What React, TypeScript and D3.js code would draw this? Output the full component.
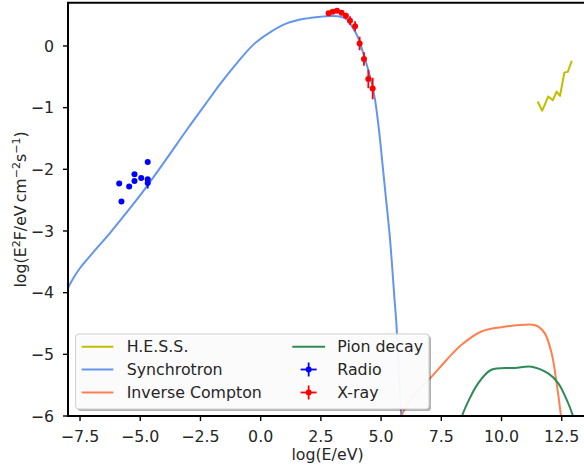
import React from "react";
import * as d3 from "d3";

const xTicks = [-7.5, -5.0, -2.5, 0.0, 2.5, 5.0, 7.5, 10.0, 12.5];
const yTicks = [0, -1, -2, -3, -4, -5, -6];

const syncX = [-8.1, -7.8, -7.5, -6.94, -6.25, -5.69, -5.0, -4.0, -3.05, -2.36, -1.67, -0.97, -0.28, 0.42, 1.11, 1.81, 2.5, 2.92, 3.33, 3.61, 3.75, 4.03, 4.3, 4.58, 4.75, 4.93, 5.07, 5.21, 5.35, 5.46, 5.56, 5.625, 5.72, 5.8, 5.87];
const syncY = [-4.0, -3.78, -3.6, -3.34, -3.03, -2.76, -2.42, -1.88, -1.35, -0.98, -0.61, -0.27, 0.03, 0.23, 0.37, 0.44, 0.475, 0.486, 0.475, 0.42, 0.34, 0.15, -0.17, -0.55, -0.876, -1.42, -1.96, -2.5, -3.04, -3.58, -4.12, -4.44, -5.1, -5.7, -6.3];

const icX = [5.78, 6.1, 6.5, 7.08, 7.7, 8.33, 9.17, 10.0, 10.97, 11.3, 11.53, 11.8, 12.08, 12.29, 12.47, 12.52];
const icY = [-6.05, -5.8, -5.6, -5.37, -5.1, -4.85, -4.63, -4.56, -4.52, -4.52, -4.55, -4.66, -4.98, -5.47, -6.0, -6.2];

const pionX = [8.34, 8.38, 9.03, 9.58, 10.56, 11.25, 11.94, 12.36, 12.71, 12.95, 13.0];
const pionY = [-6.05, -5.98, -5.47, -5.25, -5.22, -5.2, -5.31, -5.47, -5.74, -5.98, -6.05];

const hessX = [11.5, 11.69, 11.94, 12.13, 12.29, 12.43, 12.61, 12.75, 12.92];
const hessY = [-0.9, -1.05, -0.82, -0.88, -0.74, -0.81, -0.43, -0.42, -0.24];

const radioX = [-5.875, -5.78, -5.46, -5.24, -5.24, -4.96, -4.69, -4.69, -4.69];
const radioY = [-2.23, -2.52, -2.28, -2.08, -2.19, -2.14, -1.88, -2.16, -2.22];
const radioErr = [0.02, 0.02, 0.02, 0.02, 0.02, 0.02, 0.02, 0.03, 0.09];

const xrayX = [2.82, 2.99, 3.17, 3.36, 3.54, 3.71, 3.92, 4.11, 4.29, 4.47, 4.65];
const xrayY = [0.53, 0.556, 0.57, 0.54, 0.49, 0.41, 0.32, 0.04, -0.21, -0.535, -0.69];
const xrayErr = [0.02, 0.02, 0.03, 0.04, 0.05, 0.07, 0.08, 0.11, 0.11, 0.15, 0.175];
const xrayXErr = [0.06, 0.06, 0.06, 0.06, 0.06, 0.06, 0.06, 0.06, 0.06, 0.06, 0.06];

const W = 584, H = 468;
const L = 68, R = 587, T = 2.8, B = 416;
const FONT = "DejaVu Sans, sans-serif";
const FS = 15.8;

const C_HESS = "#bfbf00";
const C_SYNC = "#6495ED";
const C_IC = "#FF7F50";
const C_PION = "#2E8B57";
const C_RADIO = "#0000FF";
const C_XRAY = "#FF0000";
const TXT = "#262626";

const fmt = (v: number) => (v < 0 ? "\u2212" : "") + Math.abs(v).toFixed(1);
const fmtInt = (v: number) => (v < 0 ? "\u2212" : "") + Math.abs(v).toFixed(0);

export default function App() {
  const x = d3.scaleLinear().domain([-8, 13.55]).range([L, R]);
  const y = d3.scaleLinear().domain([-6, 0.7]).range([B, T]);
  const line = d3
    .line<[number, number]>()
    .x((d) => x(d[0]))
    .y((d) => y(d[1]))
    .curve(d3.curveCatmullRom.alpha(0.5));
  const lineLin = d3
    .line<[number, number]>()
    .x((d) => x(d[0]))
    .y((d) => y(d[1]));
  const zip = (a: number[], b: number[]) => a.map((v, i) => [v, b[i]] as [number, number]);

  const legX = 75.7, legY = 334, legW = 353.3, legH = 75;
  const rows = [346.7, 369.5, 392.5];
  const col1H = [81.7, 113.3], col1T = 126.7;
  const col2H = [292.3, 325], col2T = 337.3;

  return (
    <svg width={W} height={H} style={{ position: "absolute", left: 0, top: 0, background: "#fff" }} fontFamily={FONT}>
      <defs>
        <clipPath id="plot">
          <rect x={L} y={T} width={R - L} height={B - T} />
        </clipPath>
      </defs>
      <rect x={0} y={0} width={W} height={H} fill="#fff" />
      <g clipPath="url(#plot)" fill="none" strokeWidth={2} strokeLinejoin="round">
        <path d={lineLin(zip(hessX, hessY)) || ""} stroke={C_HESS} />
        <path d={line(zip(syncX, syncY)) || ""} stroke={C_SYNC} />
        <path d={line(zip(icX, icY)) || ""} stroke={C_IC} />
        <path d={line(zip(pionX, pionY)) || ""} stroke={C_PION} />
      </g>
      <g clipPath="url(#plot)">
        {radioX.map((v, i) => (
          <g key={"r" + i}>
            <line x1={x(v)} x2={x(v)} y1={y(radioY[i] - radioErr[i])} y2={y(radioY[i] + radioErr[i])} stroke={C_RADIO} strokeWidth={1.8} />
            <circle cx={x(v)} cy={y(radioY[i])} r={3} fill={C_RADIO} />
          </g>
        ))}
        {xrayX.map((v, i) => (
          <g key={"x" + i}>
            <line x1={x(v)} x2={x(v)} y1={y(xrayY[i] - xrayErr[i])} y2={y(xrayY[i] + xrayErr[i])} stroke={C_XRAY} strokeWidth={1.8} />
            <line x1={x(v - xrayXErr[i])} x2={x(v + xrayXErr[i])} y1={y(xrayY[i])} y2={y(xrayY[i])} stroke={C_XRAY} strokeWidth={1.8} />
            <circle cx={x(v)} cy={y(xrayY[i])} r={3} fill={C_XRAY} />
          </g>
        ))}
      </g>
      {/* spines */}
      <g stroke="#000" strokeWidth={2} fill="none">
        <line x1={L} x2={L} y1={T} y2={B} />
        <line x1={L - 1} x2={W + 5} y1={B} y2={B} />
        <line x1={L - 1} x2={W + 5} y1={T} y2={T} />
      </g>
      {/* x ticks */}
      {xTicks.map((t) => (
        <g key={"xt" + t}>
          <line x1={x(t)} x2={x(t)} y1={B} y2={B + 5} stroke="#000" strokeWidth={1.4} />
          <text x={x(t)} y={442} textAnchor="middle" fontSize={FS} fill={TXT}>
            {fmt(t)}
          </text>
        </g>
      ))}
      {yTicks.map((t) => (
        <g key={"yt" + t}>
          <line x1={L - 5} x2={L} y1={y(t)} y2={y(t)} stroke="#000" strokeWidth={1.4} />
          <text x={L - 14} y={y(t)} dy="0.36em" textAnchor="end" fontSize={FS} fill={TXT}>
            {fmtInt(t)}
          </text>
        </g>
      ))}
      <text x={(L + R) / 2} y={460} textAnchor="middle" fontSize={FS} fill={TXT}>
        log(E/eV)
      </text>
      <text transform={`translate(25.5, ${(T + B) / 2}) rotate(-90)`} textAnchor="middle" fontSize={FS} fill={TXT}>
        <tspan>log(E</tspan>
        <tspan fontSize={FS * 0.7} dy={-6}>2</tspan>
        <tspan dy={6}>F/eV</tspan>
        <tspan dx={3}>cm</tspan>
        <tspan fontSize={FS * 0.7} dy={-6}>{"\u22122"}</tspan>
        <tspan dy={6}>s</tspan>
        <tspan fontSize={FS * 0.7} dy={-6}>{"\u22121"}</tspan>
        <tspan dy={6}>)</tspan>
      </text>
      {/* legend */}
      <rect x={legX + 2} y={legY + 2} width={legW} height={legH} rx={3} fill="#000" opacity={0.3} />
      <rect x={legX} y={legY} width={legW} height={legH} rx={3} fill="#fff" fillOpacity={0.95} stroke="#cccccc" strokeWidth={1} />
      {[
        { c: C_HESS, t: "H.E.S.S." },
        { c: C_SYNC, t: "Synchrotron" },
        { c: C_IC, t: "Inverse Compton" },
      ].map((e, i) => (
        <g key={"l1" + i}>
          <line x1={col1H[0]} x2={col1H[1]} y1={rows[i]} y2={rows[i]} stroke={e.c} strokeWidth={2} />
          <text x={col1T} y={rows[i]} dy="0.36em" fontSize={FS} fill={TXT}>
            {e.t}
          </text>
        </g>
      ))}
      <g>
        <line x1={col2H[0]} x2={col2H[1]} y1={rows[0]} y2={rows[0]} stroke={C_PION} strokeWidth={2} />
        <text x={col2T} y={rows[0]} dy="0.36em" fontSize={FS} fill={TXT}>
          Pion decay
        </text>
      </g>
      {[
        { c: C_RADIO, t: "Radio" },
        { c: C_XRAY, t: "X-ray" },
      ].map((e, i) => {
        const cx = (col2H[0] + col2H[1]) / 2;
        const cy = rows[i + 1];
        return (
          <g key={"l2" + i}>
            <line x1={cx - 8} x2={cx + 8} y1={cy} y2={cy} stroke={e.c} strokeWidth={1.8} />
            <line x1={cx} x2={cx} y1={cy - 7} y2={cy + 7} stroke={e.c} strokeWidth={1.8} />
            <circle cx={cx} cy={cy} r={3} fill={e.c} />
            <text x={col2T} y={cy} dy="0.36em" fontSize={FS} fill={TXT}>
              {e.t}
            </text>
          </g>
        );
      })}
    </svg>
  );
}
